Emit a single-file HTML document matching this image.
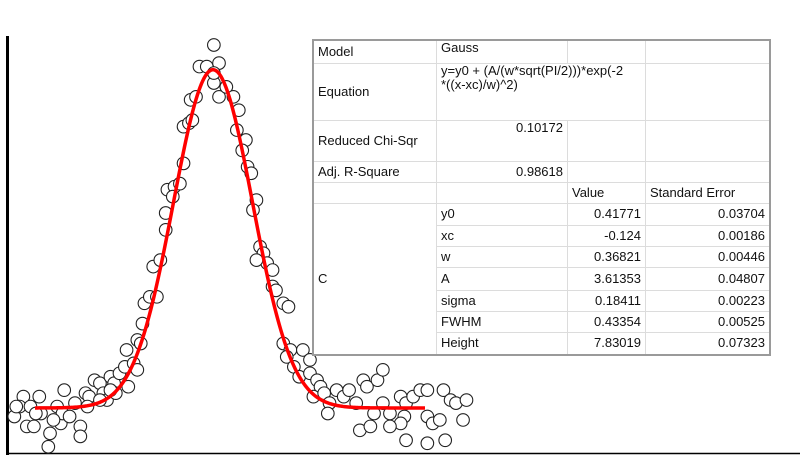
<!DOCTYPE html>
<html><head><meta charset="utf-8">
<style>
html,body{margin:0;padding:0;background:#fff;width:800px;height:455px;overflow:hidden;position:relative;font-family:"Liberation Sans",Arial,sans-serif;}
svg{position:absolute;left:0;top:0;}
#tbl{position:absolute;left:312px;top:39px;border-collapse:collapse;background:#fff;font-size:13px;color:#111;border:2px solid #9a9a9a;}
#tbl td{border:1px solid #dcdcdc;padding:0 4px;vertical-align:middle;line-height:14px;}
#tbl td.r{text-align:right;}
#tbl td.t{vertical-align:top;}
</style></head><body>
<svg id="chart" width="800" height="455">
  <line x1="7.5" y1="36" x2="7.5" y2="455" stroke="#000" stroke-width="3"/>
  <line x1="6" y1="453.5" x2="800" y2="453.5" stroke="#000" stroke-width="1.5"/>
  <g id="pts"></g>
  <path id="fit" fill="none" stroke="#f00" stroke-width="3.5"/>
</svg>
<table id="tbl">
<tr style="height:23px"><td style="width:114px">Model</td><td class="t" style="width:122px">Gauss</td><td style="width:69px"></td><td style="width:115px"></td></tr>
<tr style="height:57px"><td>Equation</td><td class="t" colspan="2">y=y0 + (A/(w*sqrt(PI/2)))*exp(-2<br>*((x-xc)/w)^2)</td><td></td></tr>
<tr style="height:41px"><td>Reduced Chi-Sqr</td><td class="r t">0.10172</td><td></td><td></td></tr>
<tr style="height:21px"><td>Adj. R-Square</td><td class="r">0.98618</td><td></td><td></td></tr>
<tr style="height:21px"><td></td><td></td><td>Value</td><td>Standard Error</td></tr>
<tr style="height:22px"><td rowspan="7">C</td><td>y0</td><td class="r">0.41771</td><td class="r">0.03704</td></tr>
<tr style="height:21px"><td>xc</td><td class="r">-0.124</td><td class="r">0.00186</td></tr>
<tr style="height:21px"><td>w</td><td class="r">0.36821</td><td class="r">0.00446</td></tr>
<tr style="height:23px"><td>A</td><td class="r">3.61353</td><td class="r">0.04807</td></tr>
<tr style="height:21px"><td>sigma</td><td class="r">0.18411</td><td class="r">0.00223</td></tr>
<tr style="height:21px"><td>FWHM</td><td class="r">0.43354</td><td class="r">0.00525</td></tr>
<tr style="height:23px"><td>Height</td><td class="r">7.83019</td><td class="r">0.07323</td></tr>
</table>
<script>
const xs=[-1.048,-1.006,-1.023,-0.973,-0.990,-0.932,-0.924,-0.882,-0.890,-0.849,-0.832,-0.816,-0.824,-0.791,-0.766,-0.741,-0.741,-0.717,-0.700,-0.675,-0.650,-0.634,-0.617,-0.601,-0.584,-0.576,-0.559,-0.534,-0.518,-0.526,-0.493,-0.476,-0.460,-0.452,-0.443,-0.418,-0.385,-0.402,-0.369,-0.344,-0.344,-0.336,-0.303,-0.278,-0.261,-0.261,-0.236,-0.220,-0.228,-0.203,-0.187,-0.153,-0.120,-0.096,-0.120,-0.096,-0.062,-0.029,-0.004,-0.013,0.029,0.012,0.037,0.054,0.078,0.062,0.095,0.111,0.128,0.153,0.153,0.169,0.203,0.227,0.203,0.236,0.219,0.252,0.294,0.327,0.277,0.327,0.360,0.376,0.343,0.393,0.418,0.410,0.451,0.484,0.509,0.542,0.575,0.592,0.641,0.666,0.559,0.608,0.625,0.666,0.699,0.749,0.774,0.766,0.807,0.840,0.873,0.873,0.898,0.931,0.948,0.981,1.006,1.039,1.055,0.774,0.873,0.956,0.749,0.699,-0.957,-0.948,-1.039,-0.866,-0.708,-0.650,-0.601,-0.476,-0.120,-0.311,0.078];
const ys=[0.22,0.68,0.45,0.45,-0.01,0.68,0.29,-0.17,-0.48,0.45,0.06,0.83,0.29,0.22,0.53,-0.01,-0.24,0.76,0.68,1.06,0.99,0.76,0.60,1.14,0.99,0.76,1.22,1.37,0.91,1.76,1.45,1.99,1.91,2.37,2.84,2.99,2.99,3.69,3.84,4.54,4.93,5.47,5.54,5.61,6.08,6.93,7.01,7.08,7.55,7.62,8.32,8.32,8.82,8.40,7.94,7.62,7.85,7.62,7.31,6.85,6.62,6.38,6.00,5.85,5.23,5.00,4.15,4.00,3.77,3.61,3.23,3.14,2.84,2.76,1.91,1.76,1.60,1.37,1.76,1.53,1.14,1.22,1.06,0.91,0.68,0.76,0.53,0.29,0.83,0.68,0.83,0.53,1.06,0.91,1.06,1.30,-0.10,-0.01,0.29,0.53,0.29,0.68,0.53,0.22,0.68,0.83,0.83,0.22,0.06,0.14,0.83,0.60,0.53,0.14,0.60,-0.33,-0.40,-0.33,0.06,-0.01,-0.01,0.29,0.45,0.14,0.45,0.60,0.83,1.30,8.17,5.31,3.84];
const fitParams=[0.41771,-0.124,0.36821,3.61353]; // y0, xc, w, A
const fitRange=[-0.952,0.862];
const sx=x=>213+(x+0.124)*215;
const sy=y=>426-y*43.2;
const NS='http://www.w3.org/2000/svg';
const g=document.getElementById('pts');
for(let i=0;i<xs.length;i++){
  const c=document.createElementNS(NS,'circle');
  c.setAttribute('cx',sx(xs[i]));c.setAttribute('cy',sy(ys[i]));c.setAttribute('r',6.3);
  c.setAttribute('fill','#fff');c.setAttribute('stroke','#222');c.setAttribute('stroke-width','1.1');
  
  
  g.appendChild(c);
}
const [y0,xc,w,A]=fitParams;
let d='';
for(let k=0;k<=300;k++){
  const x=fitRange[0]+(fitRange[1]-fitRange[0])*k/300;
  const y=y0+(A/(w*Math.sqrt(Math.PI/2)))*Math.exp(-2*((x-xc)/w)**2);
  d+=(k?'L':'M')+sx(x).toFixed(2)+' '+sy(y).toFixed(2);
}
document.getElementById('fit').setAttribute('d',d);
</script>
</body></html>
